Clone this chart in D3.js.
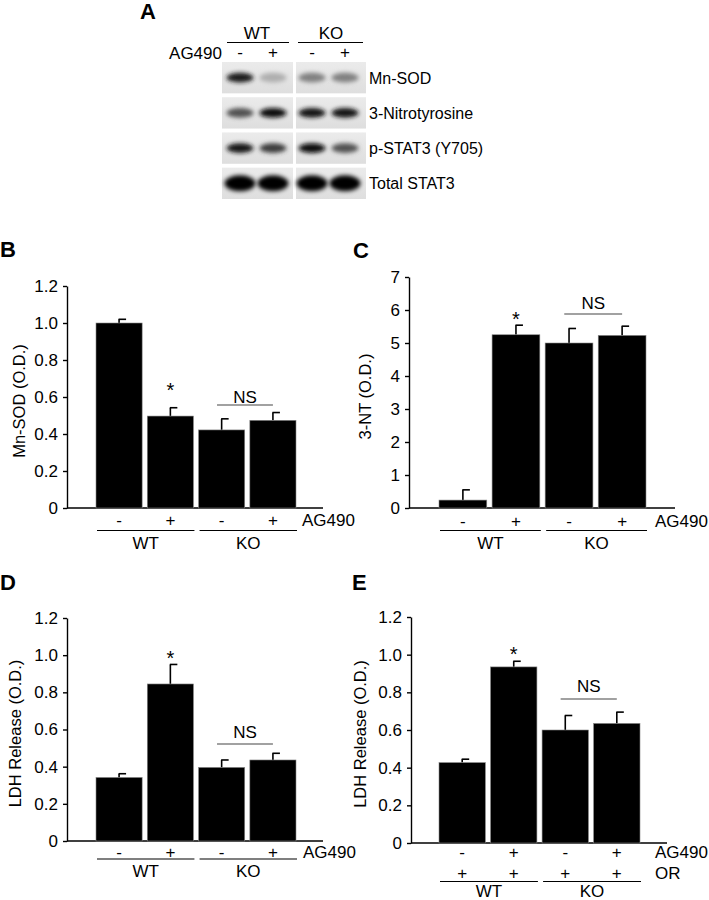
<!DOCTYPE html>
<html>
<head>
    <meta charset="utf-8">
    <title>AG490 STAT3 figure</title>
    <script src="https://d3js.org/d3.v7.min.js"></script>
    <style>
        body { margin: 0; background: #fff; }
        svg text { font-family: "Liberation Sans", Arial, sans-serif; fill: #000; }
    </style>
</head>
<body>
    <svg width="709" height="900"></svg>
    <script>
        // ---- data ----
        const lanes = ["WT -", "WT +", "KO -", "KO +"];
        const groups = ["WT", "KO"];
        const ag490 = ["-", "+", "-", "+"];
        const orRow = ["+", "+", "+", "+"];

        const mnSodMean = [1.0, 0.497, 0.422, 0.474];
        const mnSodErr = [0.02, 0.045, 0.06, 0.042];
        const ntMean = [0.24, 5.25, 5.0, 5.23];
        const ntErr = [0.31, 0.29, 0.44, 0.28];
        const ldhMean = [0.342, 0.845, 0.396, 0.436];
        const ldhErr = [0.02, 0.105, 0.04, 0.036];
        const ldhOrMean = [0.427, 0.935, 0.6, 0.635];
        const ldhOrErr = [0.018, 0.03, 0.077, 0.06];

        const ticks12 = [0, 0.2, 0.4, 0.6, 0.8, 1.0, 1.2];
        const tickLabels12 = ["0", "0.2", "0.4", "0.6", "0.8", "1.0", "1.2"];
        const ticks7 = [0, 1, 2, 3, 4, 5, 6, 7];

        // western blot: band darkness per lane (0..1)
        const blotLabels = ["Mn-SOD", "3-Nitrotyrosine", "p-STAT3 (Y705)", "Total STAT3"];
        const blotDensity = [
            [0.88, 0.25, 0.45, 0.45],
            [0.65, 0.95, 0.9, 0.9],
            [0.9, 0.75, 0.97, 0.65],
            [1.0, 1.0, 1.0, 1.0]
        ];

        const FS = 17;
        const svg = d3.select("svg");
        const defs = svg.append("defs");
        defs.append("filter").attr("id", "blur").attr("x", "-50%").attr("y", "-100%")
            .attr("width", "200%").attr("height", "300%")
            .append("feGaussianBlur").attr("stdDeviation", 2);
        const grad = defs.append("linearGradient").attr("id", "blotbg")
            .attr("x1", 0).attr("y1", 0).attr("x2", 0).attr("y2", 1);
        grad.append("stop").attr("offset", "0%").attr("stop-color", "#ebebeb");
        grad.append("stop").attr("offset", "100%").attr("stop-color", "#dedede");

        // ---- panel A: blot ----
        const blot = svg.append("g");
        blot.append("text").attr("x", 140).attr("y", 19).attr("font-size", 22)
            .attr("font-weight", "bold").text("A");

        const boxes = [{ x: 222, w: 71 }, { x: 296, w: 70 }];
        const laneCenters = [240, 273, 312, 345];
        const rowY = d3.scaleBand().domain(blotLabels).range([62, 199]).paddingInner(0.11);

        // headers
        blot.append("text").attr("x", 257).attr("y", 39).attr("font-size", FS)
            .attr("text-anchor", "middle").text(groups[0]);
        blot.append("text").attr("x", 331).attr("y", 39).attr("font-size", FS)
            .attr("text-anchor", "middle").text(groups[1]);
        blot.append("line").attr("x1", 227).attr("x2", 289).attr("y1", 42.5).attr("y2", 42.5)
            .attr("stroke", "#000").attr("stroke-width", 1.2);
        blot.append("line").attr("x1", 298).attr("x2", 363).attr("y1", 42.5).attr("y2", 42.5)
            .attr("stroke", "#000").attr("stroke-width", 1.2);
        blot.append("text").attr("x", 222).attr("y", 59).attr("font-size", FS)
            .attr("text-anchor", "end").text("AG490");
        ag490.forEach((s, i) => {
            blot.append("text").attr("x", laneCenters[i]).attr("y", 58).attr("font-size", FS)
                .attr("text-anchor", "middle").text(s);
        });

        blotLabels.forEach((lab, r) => {
            const y = rowY(lab), h = rowY.bandwidth();
            boxes.forEach(b => {
                blot.append("rect").attr("x", b.x).attr("y", y).attr("width", b.w).attr("height", h)
                    .attr("fill", "url(#blotbg)");
            });
            blotDensity[r].forEach((d, i) => {
                const g = Math.round(232 - d * 230);
                const big = r === 3;
                blot.append("ellipse")
                    .attr("cx", laneCenters[i]).attr("cy", y + h / 2)
                    .attr("rx", big ? 15.5 : 13.5).attr("ry", big ? 8 : 4.8)
                    .attr("fill", d3.rgb(g, g, g))
                    .attr("filter", "url(#blur)");
            });
            blot.append("text").attr("x", 369).attr("y", y + h / 2 + 6).attr("font-size", 16)
                .text(lab);
        });

        // ---- bar panels ----
        function drawPanel(cfg) {
            const g = svg.append("g");
            const y = d3.scaleLinear().domain([0, cfg.max]).range([cfg.y0, cfg.yTop]);
            const x = d3.scaleBand().domain(lanes).range(cfg.bars).paddingInner(0.1).paddingOuter(0);

            g.append("text").attr("x", cfg.label[0]).attr("y", cfg.label[1]).attr("font-size", 22)
                .attr("font-weight", "bold").text(cfg.letter);

            // y axis
            const yAxis = d3.axisLeft(y).tickValues(cfg.ticks).tickSize(4).tickSizeOuter(0).tickPadding(5)
                .tickFormat((d, i) => cfg.tickLabels[i]);
            const ax = g.append("g").attr("transform", `translate(${cfg.ax},0)`).call(yAxis);
            ax.selectAll("text").attr("font-size", FS).style("font-family", "Liberation Sans, Arial, sans-serif");
            ax.selectAll("line, path").attr("stroke", "#000").attr("stroke-width", 1.4);

            // x axis line
            g.append("line").attr("x1", cfg.ax).attr("x2", cfg.axEnd)
                .attr("y1", cfg.y0).attr("y2", cfg.y0).attr("stroke", "#000").attr("stroke-width", 1.6);

            // y title
            g.append("text").attr("transform", `translate(${cfg.titleX},${(cfg.y0 + cfg.yTop) / 2 + 4}) rotate(-90)`)
                .attr("text-anchor", "middle").attr("font-size", 16.5).text(cfg.title);

            // error bars
            lanes.forEach((l, i) => {
                const cx = x(l) + x.bandwidth() / 2;
                const top = y(cfg.mean[i] + cfg.err[i]);
                g.append("line").attr("x1", cx).attr("x2", cx).attr("y1", y(cfg.mean[i])).attr("y2", top)
                    .attr("stroke", "#000").attr("stroke-width", 1.6);
                g.append("line").attr("x1", cx - 0.5).attr("x2", cx + 7).attr("y1", top).attr("y2", top)
                    .attr("stroke", "#000").attr("stroke-width", 1.6);
            });

            // bars
            g.selectAll("rect.bar").data(cfg.mean).join("rect").attr("class", "bar")
                .attr("x", (d, i) => x(lanes[i]))
                .attr("y", d => y(d))
                .attr("width", x.bandwidth())
                .attr("height", d => cfg.y0 - y(d))
                .attr("fill", "#000")
                .attr("stroke", "#888").attr("stroke-width", 0.6);

            // significance
            const c1 = x(lanes[1]) + x.bandwidth() / 2;
            g.append("text").attr("x", c1).attr("y", cfg.starY).attr("font-size", 20)
                .attr("text-anchor", "middle").text("*");
            const ns0 = x(lanes[2]) + x.bandwidth() * 0.4;
            const ns1 = x(lanes[3]) + x.bandwidth() * 0.5;
            g.append("line").attr("x1", ns0).attr("x2", ns1).attr("y1", cfg.nsLineY).attr("y2", cfg.nsLineY)
                .attr("stroke", "#444").attr("stroke-width", 1.2);
            g.append("text").attr("x", (ns0 + ns1) / 2).attr("y", cfg.nsLineY - cfg.nsGap).attr("font-size", FS)
                .attr("text-anchor", "middle").text("NS");

            // condition rows
            cfg.rows.forEach(row => {
                row.values.forEach((s, i) => {
                    g.append("text").attr("x", x(lanes[i]) + x.bandwidth() / 2).attr("y", row.y)
                        .attr("font-size", FS).attr("text-anchor", "middle").text(s);
                });
                g.append("text").attr("x", cfg.rowLabelX).attr("y", row.y).attr("font-size", FS).text(row.name);
            });

            // group lines and labels
            groups.forEach((gr, k) => {
                const a = x(lanes[2 * k]) + 1;
                const b = x(lanes[2 * k + 1]) + x.bandwidth() + 1;
                g.append("line").attr("x1", a).attr("x2", b).attr("y1", cfg.groupLineY).attr("y2", cfg.groupLineY)
                    .attr("stroke", "#000").attr("stroke-width", 1.2);
                g.append("text").attr("x", (a + b) / 2).attr("y", cfg.groupLineY + cfg.groupGap).attr("font-size", FS)
                    .attr("text-anchor", "middle").text(gr);
            });
        }

        drawPanel({
            letter: "B", label: [0, 257],
            mean: mnSodMean, err: mnSodErr, max: 1.2, ticks: ticks12, tickLabels: tickLabels12,
            ax: 67, axEnd: 323, y0: 508, yTop: 286, bars: [96, 296],
            title: "Mn-SOD (O.D.)", titleX: 25,
            starY: 397, nsLineY: 405, nsGap: 2.5,
            rows: [{ name: "AG490", values: ag490, y: 526 }], rowLabelX: 302,
            groupLineY: 530.5, groupGap: 18
        });

        drawPanel({
            letter: "C", label: [353, 258],
            mean: ntMean, err: ntErr, max: 7, ticks: ticks7, tickLabels: ticks7.map(String),
            ax: 409, axEnd: 675, y0: 508, yTop: 277, bars: [439, 646],
            title: "3-NT (O.D.)", titleX: 371,
            starY: 326, nsLineY: 314, nsGap: 5,
            rows: [{ name: "AG490", values: ag490, y: 527 }], rowLabelX: 655,
            groupLineY: 530.5, groupGap: 18
        });

        drawPanel({
            letter: "D", label: [0, 590],
            mean: ldhMean, err: ldhErr, max: 1.2, ticks: ticks12, tickLabels: tickLabels12,
            ax: 67, axEnd: 323, y0: 841, yTop: 618, bars: [96, 296],
            title: "LDH Release (O.D.)", titleX: 21,
            starY: 665, nsLineY: 744, nsGap: 6,
            rows: [{ name: "AG490", values: ag490, y: 858 }], rowLabelX: 303,
            groupLineY: 859, groupGap: 18
        });

        drawPanel({
            letter: "E", label: [352, 590],
            mean: ldhOrMean, err: ldhOrErr, max: 1.2, ticks: ticks12, tickLabels: tickLabels12,
            ax: 411, axEnd: 667, y0: 843, yTop: 617, bars: [439, 640],
            title: "LDH Release (O.D.)", titleX: 366,
            starY: 661, nsLineY: 699, nsGap: 7,
            rows: [{ name: "AG490", values: ag490, y: 858 }, { name: "OR", values: orRow, y: 879 }], rowLabelX: 655,
            groupLineY: 881.5, groupGap: 15
        });
    </script>
</body>
</html>
